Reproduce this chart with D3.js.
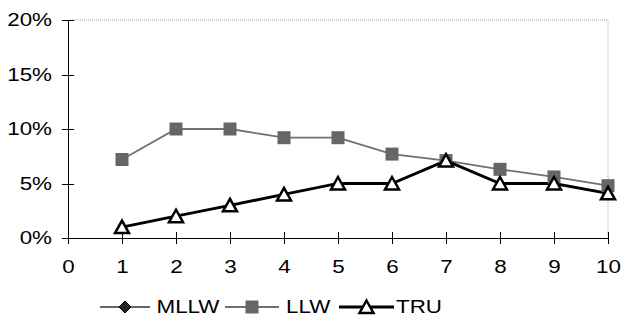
<!DOCTYPE html>
<html>
<head>
<meta charset="utf-8">
<script src="https://cdn.jsdelivr.net/npm/d3@7"></script>
<style>
  html, body { margin: 0; padding: 0; background: #fff; }
  svg text { font-family: "Liberation Sans", Arial, sans-serif; fill: #000; }
</style>
</head>
<body>
<svg id="chart" width="621" height="322"></svg>
<script>
// Chart data
const xValues = [1, 2, 3, 4, 5, 6, 7, 8, 9, 10];
const mllw = [null, null, null, null, null, null, null, null, null, null];
const llw = [7.2, 10, 10, 9.2, 9.2, 7.7, 7.1, 6.3, 5.6, 4.8];
const tru = [1, 2, 3, 4, 5, 5, 7.1, 5, 5, 4.1];
const xTicks = [0, 1, 2, 3, 4, 5, 6, 7, 8, 9, 10];
const yTicks = [0, 5, 10, 15, 20];
const seriesNames = ["MLLW", "LLW", "TRU"];

const svg = d3.select("#chart");
const plotLeft = 68, plotRight = 608, plotTop = 20, plotBottom = 238;
const fontSize = 17.5, stretch = 1.28;   // wide-set lettering

const x = d3.scaleLinear().domain([0, 10]).range([plotLeft, plotRight]);
const y = d3.scaleLinear().domain([0, 20]).range([plotBottom, plotTop]);

// plot frame: top and right edges
svg.append("path")
  .attr("d", `M${plotLeft},${plotTop}H${plotRight}V${plotBottom}`)
  .attr("fill", "none").attr("stroke", "#a0a0a0").attr("stroke-width", 1)
  .attr("stroke-dasharray", "1,1");

// axes
const yAxis = d3.axisLeft(y).tickValues(yTicks).tickSizeInner(6).tickSizeOuter(0)
  .tickFormat(d => d + "%");
const yg = svg.append("g").attr("transform", `translate(${plotLeft},0)`).call(yAxis);
yg.selectAll(".tick line").attr("x2", 6).attr("x1", -6).attr("stroke", "#000");
yg.select(".domain").attr("stroke", "#000").attr("stroke-width", 1.3);
yg.selectAll("text").attr("font-size", fontSize)
  .attr("x", -16 / stretch).attr("transform", `scale(${stretch},1)`);

const xAxis = d3.axisBottom(x).tickValues(xTicks).tickSizeInner(6).tickSizeOuter(0)
  .tickPadding(17);
const xg = svg.append("g").attr("transform", `translate(0,${plotBottom})`).call(xAxis);
xg.selectAll(".tick line").attr("y1", -6).attr("y2", 6).attr("stroke", "#000");
xg.select(".domain").attr("stroke", "#000").attr("stroke-width", 1.3);
xg.selectAll("text").attr("font-size", fontSize).attr("transform", `scale(${stretch},1)`);
svg.selectAll(".domain, .tick line").attr("shape-rendering", "crispEdges");

const line = d3.line()
  .defined(d => d[1] != null)
  .x(d => x(d[0])).y(d => y(d[1]));

const pts = vals => xValues.map((v, i) => [v, vals[i]]);

// marker shapes
const diamond = (g, cx, cy) => g.append("path")
  .attr("d", `M${cx},${cy - 6}L${cx + 6},${cy}L${cx},${cy + 6}L${cx - 6},${cy}Z`)
  .attr("fill", "#222").attr("stroke", "#000");
const square = (g, cx, cy) => g.append("rect")
  .attr("x", cx - 6.5).attr("y", cy - 6.5).attr("width", 13).attr("height", 13)
  .attr("fill", "#666");
const triangle = (g, cx, cy) => g.append("path")
  .attr("d", `M${cx},${cy - 6.5}L${cx + 7},${cy + 6}L${cx - 7},${cy + 6}Z`)
  .attr("fill", "#fff").attr("stroke", "#000").attr("stroke-width", 2.5)
  .attr("stroke-linejoin", "miter");

const styles = [
  { data: mllw, stroke: "#333", width: 1.5, marker: diamond },
  { data: llw, stroke: "#707070", width: 1.8, marker: square },
  { data: tru, stroke: "#000", width: 2.8, marker: triangle }
];

// series lines then markers
styles.forEach(s => {
  svg.append("path").datum(pts(s.data))
    .attr("d", line).attr("fill", "none")
    .attr("stroke", s.stroke).attr("stroke-width", s.width);
});
styles.forEach(s => {
  const g = svg.append("g");
  pts(s.data).filter(d => d[1] != null).forEach(d => s.marker(g, x(d[0]), y(d[1])));
});

// legend
const legendY = 307;
const legendItems = [
  { x1: 100, x2: 150, text: 156.5 },
  { x1: 225, x2: 279, text: 286 },
  { x1: 339, x2: 394, text: 396 }
];
legendItems.forEach((it, i) => {
  const s = styles[i];
  const g = svg.append("g");
  g.append("line").attr("x1", it.x1).attr("x2", it.x2)
    .attr("y1", legendY).attr("y2", legendY)
    .attr("stroke", s.stroke).attr("stroke-width", s.width);
  s.marker(g, (it.x1 + it.x2) / 2, legendY);
  g.append("text")
    .attr("transform", `translate(${it.text},${legendY + 6.3}) scale(${stretch},1)`)
    .attr("font-size", fontSize).text(seriesNames[i]);
});
</script>
</body>
</html>
